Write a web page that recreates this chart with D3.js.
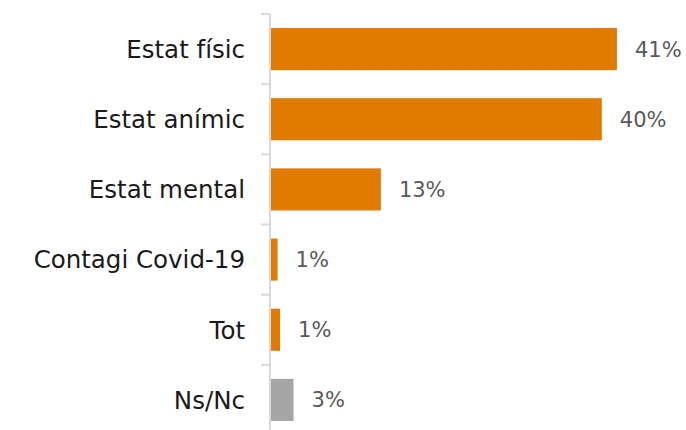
<!DOCTYPE html>
<html>
<head>
<meta charset="utf-8">
<script src="https://cdn.jsdelivr.net/npm/d3@7"></script>
<style>
  body { margin: 0; background: #fff; }
  svg text { font-family: "Century Gothic", "DejaVu Sans", sans-serif; }
</style>
</head>
<body>
<div id="chart-area"></div>
<script>
// data
var categories = ["Estat físic", "Estat anímic", "Estat mental", "Contagi Covid-19", "Tot", "Ns/Nc"];
var values = [41.3, 39.5, 13.2, 0.9, 1.2, 2.8];
var labels = ["41%", "40%", "13%", "1%", "1%", "3%"];
var colors = ["#E07B00", "#E07B00", "#E07B00", "#E07B00", "#E07B00", "#A5A5A5"];

var W = 686, H = 430;
var axisX = 270;

var svg = d3.select("#chart-area")
	.append("svg")
		.attr("width", W)
		.attr("height", H)

// scales
var x = d3.scaleLinear()
	.domain([0, 1])
	.range([axisX, axisX + 8.4])
var y = d3.scaleBand()
	.domain(categories)
	.range([14, 435])
	.paddingInner(0.4)
	.paddingOuter(0.2)

// bars
svg.selectAll("rect.bar")
	.data(categories)
	.enter()
	.append("rect")
		.attr("class", "bar")
		.attr("x", x(0))
		.attr("y", d => y(d))
		.attr("width", (d, i) => x(values[i]) - x(0))
		.attr("height", y.bandwidth())
		.attr("fill", (d, i) => colors[i])

// value labels
svg.selectAll("text.val")
	.data(categories)
	.enter()
	.append("text")
		.attr("class", "val")
		.attr("x", (d, i) => x(values[i]) + 18)
		.attr("y", d => y(d) + y.bandwidth() / 2)
		.attr("dy", "0.36em")
		.attr("font-size", "21px")
		.attr("fill", "#595959")
		.text((d, i) => labels[i])

// category axis: line with ticks between bands
var edges = categories.map(d => y(d) - y.step() * y.paddingInner() / 2);
edges[0] = 14;
svg.append("line")
	.attr("x1", axisX).attr("x2", axisX)
	.attr("y1", 14).attr("y2", H)
	.attr("stroke", "#D9D9D9")
	.attr("stroke-width", 2)
svg.selectAll("line.tick")
	.data(edges)
	.enter()
	.append("line")
		.attr("class", "tick")
		.attr("x1", axisX - 9).attr("x2", axisX)
		.attr("y1", d => d).attr("y2", d => d)
		.attr("stroke", "#D9D9D9")
		.attr("stroke-width", 2)

svg.selectAll("text.cat")
	.data(categories)
	.enter()
	.append("text")
		.attr("class", "cat")
		.attr("x", axisX - 25)
		.attr("y", d => y(d) + y.bandwidth() / 2)
		.attr("dy", "0.36em")
		.attr("text-anchor", "end")
		.attr("font-size", "24.5px")
		.attr("fill", "#1a1a1a")
		.text(d => d)
</script>
</body>
</html>
